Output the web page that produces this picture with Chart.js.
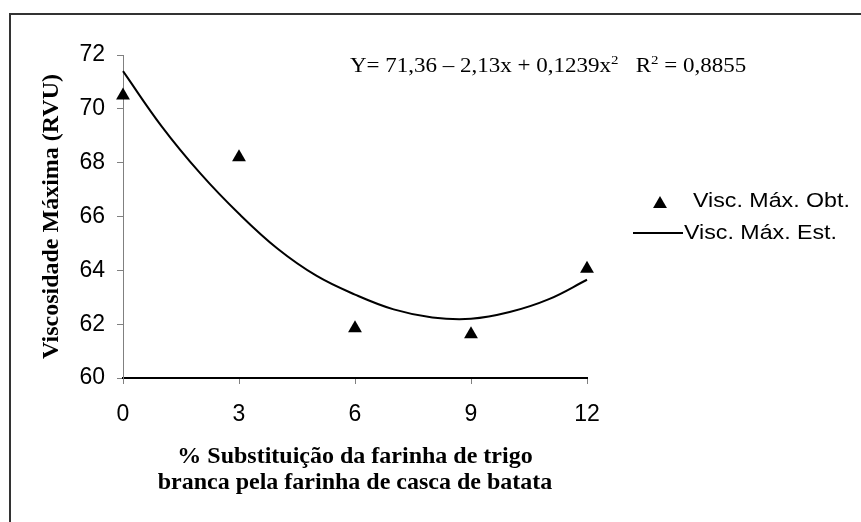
<!DOCTYPE html>
<html>
<head>
<meta charset="utf-8">
<script src="https://cdn.jsdelivr.net/npm/chart.js@4"></script>
<style>
  html, body { margin: 0; padding: 0; background: #fff; }
  #wrap { width: 861px; height: 522px; }
</style>
</head>
<body>
<div id="wrap"><canvas id="grafico" width="861" height="522"></canvas></div>
<script>
// valores
const substituicao = [0, 3, 6, 9, 12];
const viscObtida = [70.5, 68.2, 61.85, 61.63, 64.06];

// curva estimada (lida ponto a ponto na figura)
const xCurva = [0, 1, 2, 3, 4, 5, 6, 7, 8, 9, 10, 11, 12];
const viscEstimada = [71.4, 69.35, 67.6, 66.1, 64.8, 63.8, 63.1, 62.55, 62.25, 62.2, 62.45, 62.92, 63.65];

const ticksX = [0, 3, 6, 9, 12];
const ticksY = [60, 62, 64, 66, 68, 70, 72];

const legendas = ["Visc. Máx. Obt.", "Visc. Máx. Est."];

const sans = "'Liberation Sans', Arial, sans-serif";
const serif = "'Liberation Serif', 'Times New Roman', serif";

// texto um pouco esticado na horizontal, como no original
function textoLargo(c, t, x, y, esc) {
  c.save();
  c.translate(x, y);
  c.scale(esc, 1);
  c.fillText(t, 0, 0);
  c.restore();
  return c.measureText(t).width * esc;
}

// moldura, equação e legenda
const extras = {
  id: "extras",
  beforeDraw(chart) {
    const c = chart.ctx;
    c.save();
    c.fillStyle = "#fff";
    c.fillRect(0, 0, chart.width, chart.height);
    c.restore();
  },
  afterDraw(chart) {
    const c = chart.ctx;
    c.save();
    c.strokeStyle = "#333";
    c.lineWidth = 2;
    c.strokeRect(10, 14, 1000, 1000);

    // equação
    c.fillStyle = "#000";
    c.textBaseline = "alphabetic";
    c.textAlign = "left";
    let x = 350, y = 72;
    const partes = [
      ["Y= 71,36 \u2013 2,13x + 0,1239x", 0],
      ["2", 1],
      ["   R", 0],
      ["2", 1],
      [" = 0,8855", 0],
    ];
    partes.forEach(([t, sup]) => {
      c.font = sup ? "13px " + serif : "20px " + serif;
      x += textoLargo(c, t, x, sup ? y - 8 : y, 1.15);
    });

    // legenda
    c.font = "20px " + sans;
    c.textBaseline = "middle";
    c.beginPath();
    const r = 8, tx = 660, ty = 204;
    c.moveTo(tx, ty - r);
    c.lineTo(tx + r * Math.sin(2 * Math.PI / 3), ty + r / 2);
    c.lineTo(tx - r * Math.sin(2 * Math.PI / 3), ty + r / 2);
    c.closePath();
    c.fill();
    textoLargo(c, legendas[0], 693, 201, 1.16);

    c.strokeStyle = "#000";
    c.lineWidth = 2;
    c.beginPath();
    c.moveTo(633, 233);
    c.lineTo(683, 233);
    c.stroke();
    textoLargo(c, legendas[1], 684, 233, 1.16);
    c.restore();
  },
};

new Chart(document.getElementById("grafico"), {
  type: "scatter",
  data: {
    datasets: [
      {
        label: legendas[0],
        data: substituicao.map((v, i) => ({ x: v, y: viscObtida[i] })),
        pointStyle: "triangle",
        pointRadius: 8,
        backgroundColor: "#000",
        borderColor: "#000",
        borderWidth: 0,
        showLine: false,
        clip: false,
        order: 1,
      },
      {
        label: legendas[1],
        data: xCurva.map((v, i) => ({ x: v, y: viscEstimada[i] })),
        showLine: true,
        pointRadius: 0,
        borderColor: "#000",
        borderWidth: 2,
        tension: 0.4,
        clip: false,
        order: 2,
      },
    ],
  },
  options: {
    responsive: false,
    animation: false,
    layout: { padding: { left: 0, top: 55, right: 274, bottom: 0 } },
    plugins: {
      legend: { display: false },
      tooltip: { enabled: false },
    },
    scales: {
      x: {
        type: "linear",
        min: 0,
        max: 12,
        afterFit: (s) => { s.height = 144; },
        afterBuildTicks: (s) => { s.ticks = ticksX.map((v) => ({ value: v })); },
        border: { color: "#000", width: 2 },
        grid: { drawOnChartArea: false, drawTicks: true, tickLength: 6, color: "#808080" },
        ticks: { color: "#000", font: { family: sans, size: 23 }, padding: 17 },
        title: {
          display: true,
          text: ["% Substituição da farinha de trigo", "branca pela farinha de casca de batata"],
          color: "#000",
          font: { family: serif, size: 24, weight: "bold", lineHeight: 26 / 24 },
          padding: { top: 0, bottom: 26 },
        },
      },
      y: {
        min: 60,
        max: 72,
        afterFit: (s) => { s.width = 123; },
        afterBuildTicks: (s) => { s.ticks = ticksY.map((v) => ({ value: v })); },
        border: { color: "#808080", width: 1 },
        grid: { drawOnChartArea: false, drawTicks: true, tickLength: 6, color: "#808080" },
        ticks: { color: "#000", font: { family: sans, size: 23 }, padding: 12 },
        title: {
          display: true,
          text: "Viscosidade Máxima (RVU)",
          color: "#000",
          font: { family: serif, size: 24, weight: "bold", lineHeight: 26 / 24 },
          padding: { top: 39, bottom: 0 },
        },
      },
    },
  },
  plugins: [extras],
});
</script>
</body>
</html>
